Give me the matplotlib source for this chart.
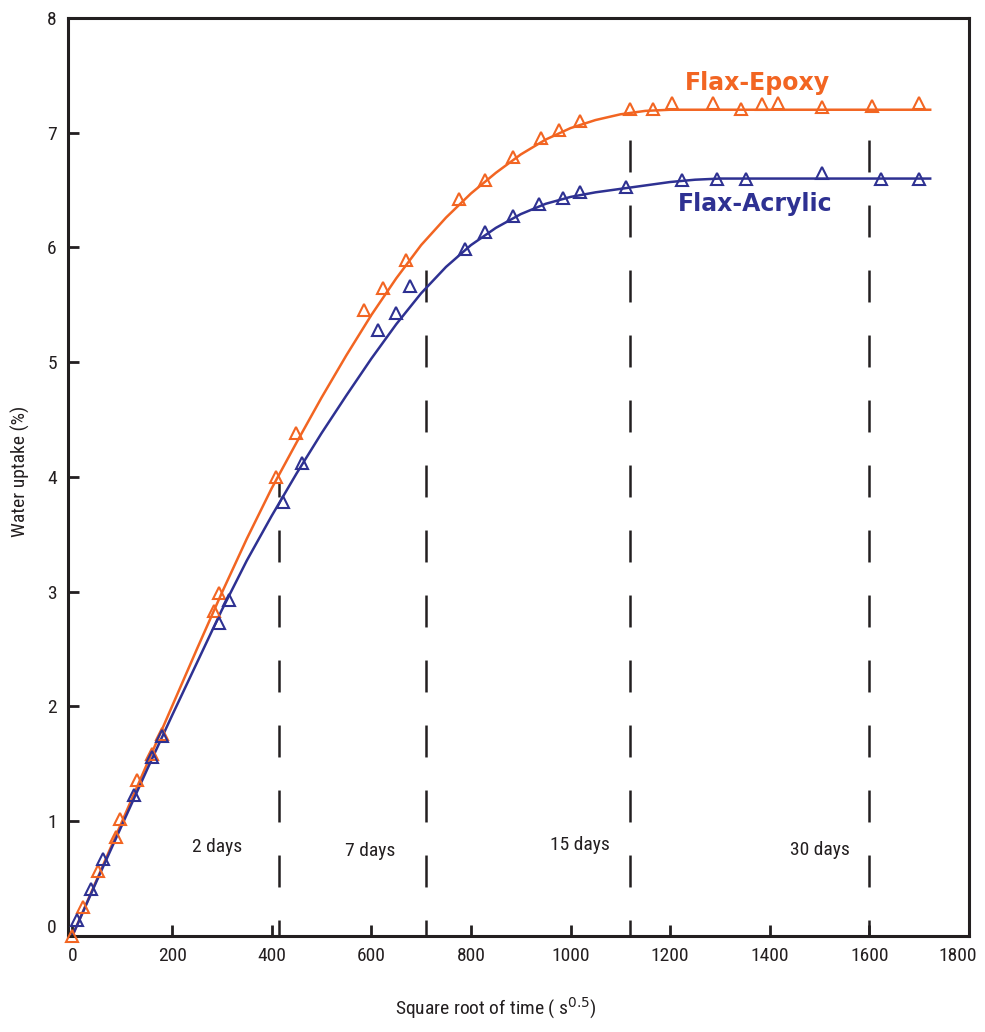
import numpy as np
import matplotlib
matplotlib.use("Agg")
import matplotlib.pyplot as plt
from matplotlib.transforms import ScaledTranslation

plt.rcParams['font.family'] = ['Roboto Condensed', 'Liberation Sans Narrow', 'Roboto', 'DejaVu Sans']
plt.rcParams['lines.scale_dashes'] = False

# measured points (sqrt time, uptake %)
epoxy_x = [0, 22, 51, 88, 96, 129, 160, 180, 284, 295, 409, 449, 586, 624, 670,
           777, 828, 885, 940, 976, 1019, 1119, 1166, 1203, 1286, 1342, 1384,
           1417, 1504, 1605, 1700]
epoxy_y = [0.0, 0.25, 0.56, 0.86, 1.02, 1.36, 1.58, 1.76, 2.83, 2.99, 4.0, 4.38,
           5.45, 5.65, 5.89, 6.42, 6.59, 6.79, 6.95, 7.02, 7.10, 7.21, 7.21,
           7.26, 7.26, 7.21, 7.25, 7.26, 7.22, 7.23, 7.26]

acrylic_x = [9, 37, 61, 124, 159, 179, 295, 315, 422, 460, 614, 650, 678, 788,
             828, 885, 937, 984, 1019, 1111, 1223, 1295, 1352, 1504, 1623, 1700]
acrylic_y = [0.14, 0.41, 0.67, 1.23, 1.56, 1.74, 2.73, 2.93, 3.78, 4.12, 5.28,
             5.43, 5.66, 5.99, 6.13, 6.27, 6.38, 6.43, 6.48, 6.53, 6.59, 6.60,
             6.60, 6.65, 6.60, 6.60]

# fitted diffusion curves
fit_x = [0, 50, 100, 150, 200, 250, 300, 350, 400, 450, 500, 550, 600, 650, 700,
         750, 800, 850, 900, 950, 1000, 1050, 1100, 1150, 1200, 1250, 1300, 1722]
epoxy_fit = [0.0, 0.5, 1.0, 1.5, 2.0, 2.5, 2.99, 3.46, 3.9, 4.3, 4.69, 5.06,
             5.41, 5.73, 6.02, 6.26, 6.47, 6.65, 6.81, 6.94, 7.04, 7.11, 7.16,
             7.19, 7.2, 7.2, 7.2, 7.2]
acrylic_fit = [0.0, 0.49, 0.97, 1.45, 1.92, 2.38, 2.84, 3.27, 3.66, 4.03, 4.38,
               4.71, 5.03, 5.33, 5.6, 5.83, 6.02, 6.17, 6.29, 6.38, 6.44, 6.48,
               6.51, 6.54, 6.57, 6.59, 6.6, 6.6]

# immersion time markers
day_x = [415, 710, 1120, 1600]
day_top = [3.95, 6.05, 7.17, 7.2]
day_labels = ["2 days", "7 days", "15 days", "30 days"]
day_label_x = [290, 597, 1019, 1501]
day_label_y = [0.77, 0.74, 0.79, 0.75]

ORANGE = "#f26522"
BLUE = "#2e3192"
INK = "#231f20"

fig = plt.figure(figsize=(9.85, 10.32), dpi=100)
ax = fig.add_axes([0.069, 0.0933, 0.9148, 0.8893])

for x, top in zip(day_x, day_top):
    ax.plot([x, x], [0, top], color=INK, lw=1.8, ls=(11.5, (23, 23.8)), zorder=1)

ax.plot(fit_x, epoxy_fit, color=ORANGE, lw=1.8, zorder=2)
ax.plot(fit_x, acrylic_fit, color=BLUE, lw=1.8, zorder=2)
ax.plot(epoxy_x, epoxy_y, ls="none", marker="^", ms=9, mfc="none", mec=ORANGE,
        mew=1.5, clip_on=False, zorder=3)
ax.plot(acrylic_x, acrylic_y, ls="none", marker="^", ms=9, mfc="none", mec=BLUE,
        mew=1.5, clip_on=False, zorder=3)

for lx, ly, txt in zip(day_label_x, day_label_y, day_labels):
    ax.text(lx, ly, txt, ha="center", va="center", fontsize=14, color=INK)

ax.text(1375, 7.43, "Flax-Epoxy", ha="center", va="center", fontsize=17,
        fontweight="heavy", color=ORANGE, family=["DejaVu Sans"])
ax.text(1371, 6.38, "Flax-Acrylic", ha="center", va="center", fontsize=17,
        fontweight="heavy", color=BLUE, family=["DejaVu Sans"])

ax.set_xlim(-9, 1800)
ax.set_ylim(0, 8)
ax.set_xticks([0, 200, 400, 600, 800, 1000, 1200, 1400, 1600, 1800])
ax.set_yticks(range(0, 9))
ax.tick_params(direction="in", length=8, width=2, color=INK, labelcolor=INK,
               labelsize=14, pad=8)
for side in ["left", "bottom", "right", "top"]:
    ax.spines[side].set_linewidth(2.2)
    ax.spines[side].set_color(INK)

# lift the y "0" so it clears the x "0", pull "1800" in from the corner
ylab0 = ax.get_yticklabels()[0]
ylab0.set_transform(ylab0.get_transform() + ScaledTranslation(0, 10 / 100, fig.dpi_scale_trans))
xlab_end = ax.get_xticklabels()[-1]
xlab_end.set_transform(xlab_end.get_transform() + ScaledTranslation(-11 / 100, 0, fig.dpi_scale_trans))

fig.text(0.503, 1 - 1008 / 1032, r"Square root of time ( s$^{0.5}$)", ha="center",
         va="center", fontsize=14, color=INK)
fig.text(0.021, 1 - 471 / 1032, "Water uptake (%)", rotation=90, ha="center",
         va="center", fontsize=14, color=INK)

fig.savefig("out.png", dpi=100)
